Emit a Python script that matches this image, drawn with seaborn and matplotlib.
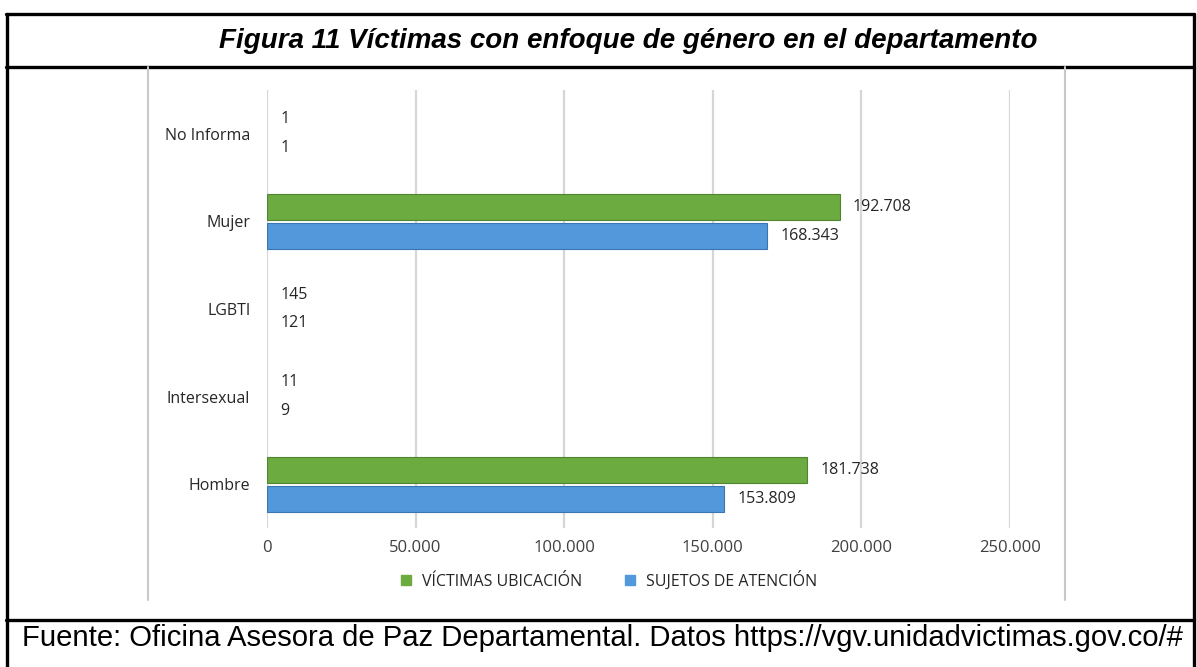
import pandas as pd
import matplotlib.pyplot as plt
import seaborn as sns
from matplotlib.lines import Line2D

# data
categorias = ['No Informa', 'Mujer', 'LGBTI', 'Intersexual', 'Hombre']
victimas_ubicacion = [1, 192708, 145, 11, 181738]
sujetos_atencion = [1, 168343, 121, 9, 153809]
series = ['VÍCTIMAS UBICACIÓN', 'SUJETOS DE ATENCIÓN']
colores = ['#6cab3f', '#5298da']
ticks_x = [0, 50000, 100000, 150000, 200000, 250000]

df = pd.DataFrame({
    'categoria': categorias * 2,
    'serie': [series[0]] * len(categorias) + [series[1]] * len(categorias),
    'valor': victimas_ubicacion + sujetos_atencion,
})

def miles(v):
    return f'{int(v):,}'.replace(',', '.')

sns.set_style('white')
plt.rcParams['font.family'] = ['Open Sans', 'DejaVu Sans']

W, H = 1197, 667
fig = plt.figure(figsize=(W / 100, H / 100), dpi=100)

# table frame around the chart
def hline(y, x0=6, x1=1194, c='black', lw=2.4):
    fig.add_artist(Line2D([x0 / W, x1 / W], [1 - y / H, 1 - y / H], color=c, lw=lw))

def vline(x, y0, y1, c='black', lw=2.4):
    fig.add_artist(Line2D([x / W, x / W], [1 - y0 / H, 1 - y1 / H], color=c, lw=lw))

hline(14)
hline(67)
hline(620)
vline(7, 14, 667)
vline(1194, 14, 667)
# inner picture border
vline(148, 67, 600, c='#c8c8c8', lw=1.5)
vline(1065, 67, 600, c='#c8c8c8', lw=1.5)

arial = ['Liberation Sans', 'DejaVu Sans']
fig.text(628 / W, 1 - 48 / H, 'Figura 11 Víctimas con enfoque de género en el departamento',
         ha='center', va='baseline', fontsize=20, fontweight='bold', fontstyle='italic',
         family=arial, color='black')
fig.text(22 / W, 1 - 646 / H,
         'Fuente: Oficina Asesora de Paz Departamental. Datos https://vgv.unidadvictimas.gov.co/#',
         ha='left', va='baseline', fontsize=21.1, family=arial, color='black')

ax = fig.add_axes([267 / W, 1 - 528 / H, (1010 - 267) / W, 438 / H])
sns.barplot(data=df, y='categoria', x='valor', hue='serie', hue_order=series,
            order=categorias, palette=colores, saturation=1, orient='h', width=0.66,
            gap=0.1, linewidth=0.8, legend=False, ax=ax)

for cont, c in zip(ax.containers, ['#4f8530', '#3b76b0']):
    for p in cont:
        p.set_edgecolor(c)
        if p.get_width() < 1000:
            p.set_linewidth(0)
    ax.bar_label(cont, labels=[miles(p.get_width()) for p in cont], padding=9.5,
                 fontsize=11.5, color='#262626')

ax.set_xlim(0, 250000)
ax.set_xticks(ticks_x)
ax.set_xticklabels([miles(t) for t in ticks_x], fontsize=12, color='#404040')
ax.grid(axis='x', color='#d6d6d6', lw=1.6)
ax.set_axisbelow(True)
ax.tick_params(axis='y', length=0, pad=12, labelsize=11.5, labelcolor='#262626')
ax.tick_params(axis='x', length=0, pad=9)
for s in ax.spines.values():
    s.set_visible(False)
ax.set_xlabel('')
ax.set_ylabel('')

handles = [Line2D([], [], marker='s', ls='', color=c, markersize=7) for c in colores]
fig.legend(handles, series, loc='center', bbox_to_anchor=(604 / W, 1 - 580 / H), ncol=2,
           frameon=False, fontsize=11.5, handletextpad=0.0, columnspacing=2.0,
           labelcolor='#262626')

fig.savefig('out.png', dpi=100, facecolor='white')
